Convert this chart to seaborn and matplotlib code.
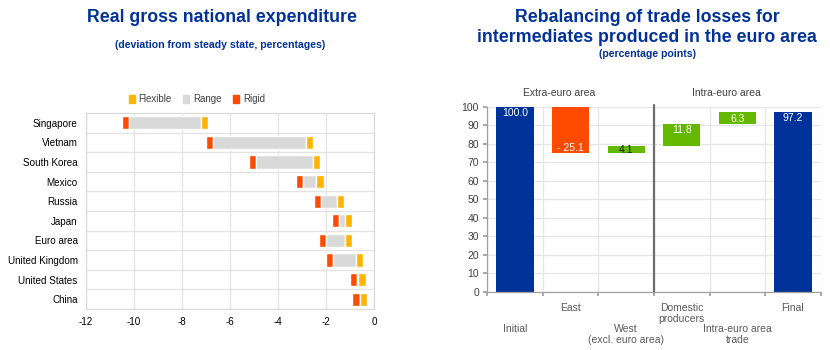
import matplotlib
matplotlib.use("Agg")
import matplotlib.pyplot as plt
from matplotlib.patches import Patch
import matplotlib.transforms as mtransforms
import seaborn as sns

# data: real gross national expenditure (left)
countries = ["Singapore", "Vietnam", "South Korea", "Mexico", "Russia",
             "Japan", "Euro area", "United Kingdom", "United States", "China"]
rigid = [-10.2, -6.7, -4.9, -2.95, -2.2, -1.45, -2.0, -1.7, -0.7, -0.6]
flexible = [-7.2, -2.85, -2.55, -2.4, -1.55, -1.2, -1.2, -0.75, -0.65, -0.6]

# data: trade losses waterfall (right)
steps = ["Initial", "East", "West\n(excl. euro area)", "Domestic\nproducers",
         "Intra-euro area\ntrade", "Final"]
changes = [100.0, -25.1, 4.1, 11.8, 6.3, 97.2]
step_kind = ["total", "loss", "gain", "gain", "gain", "total"]
groups = ["Extra-euro area", "Intra-euro area"]

BLUE = "#003299"
RED = "#FF4B00"
YELLOW = "#FFB400"
GREEN = "#65B800"
LGREY = "#D9D9D9"
TXT = "#404040"

sns.set_theme(style="white")
plt.rcParams["font.family"] = ["Liberation Sans", "DejaVu Sans"]
plt.rcParams["axes.unicode_minus"] = False
TITLE_FONT = ["Liberation Sans Narrow", "Liberation Sans", "DejaVu Sans"]

fig = plt.figure(figsize=(8.3, 3.5), dpi=100)

# ---------------- left chart ----------------
ax1 = fig.add_axes([86 / 830, 1 - 309 / 350, 288 / 830, 196 / 350])
mw = 0.3  # marker width
range_w = [f - r for r, f in zip(rigid, flexible)]
sns.barplot(x=[mw] * len(countries), y=countries, left=[r - mw for r in rigid],
            orient="h", color=RED, saturation=1, width=0.68, errorbar=None, ax=ax1)
sns.barplot(x=range_w, y=countries, left=rigid, orient="h", color=LGREY,
            saturation=1, width=0.68, errorbar=None, ax=ax1)
sns.barplot(x=[mw] * len(countries), y=countries, left=flexible, orient="h",
            color=YELLOW, saturation=1, width=0.68, errorbar=None, ax=ax1)
ax1.set_xlim(-12, 0)
ax1.set_ylim(len(countries) - 0.5, -0.5)
ax1.set_xticks(range(-12, 1, 2))
ax1.set_yticks([i + 0.5 for i in range(len(countries) - 1)], minor=True)
ax1.grid(True, axis="x", color="#E3E3E3", lw=0.9)
ax1.grid(True, axis="y", which="minor", color="#E3E3E3", lw=0.9)
ax1.set_axisbelow(True)
ax1.tick_params(axis="both", which="both", length=0, labelsize=7.1, colors="black", pad=6)
ax1.set_xlabel("")
ax1.set_ylabel("")
for s in ax1.spines.values():
    s.set_color("#DADADA")
    s.set_linewidth(0.9)
ax1.legend(handles=[Patch(color=YELLOW, label="Flexible"), Patch(color=LGREY, label="Range"),
                    Patch(color=RED, label="Rigid")],
           loc="center", bbox_to_anchor=(0.385, 1.071), ncol=3, frameon=False,
           fontsize=7, handlelength=0.6, handleheight=0.9, handletextpad=0.4,
           columnspacing=1.2, labelcolor=TXT)

fig.text(222 / 830, 1 - 18 / 350, "Real gross national expenditure", ha="center", va="center",
         fontsize=12.8, fontweight="bold", color=BLUE, family=TITLE_FONT)
fig.text(220 / 830, 1 - 45 / 350, "(deviation from steady state, percentages)", ha="center",
         va="center", fontsize=7.6, fontweight="bold", color=BLUE, family=TITLE_FONT)

# ---------------- right chart ----------------
ax2 = fig.add_axes([487.3 / 830, 1 - 291.7 / 350, 333.4 / 830, 185 / 350])
bottoms, heights = [], []
level = 0.0
for v, k in zip(changes, step_kind):
    if k == "total":
        bottoms.append(0.0)
        heights.append(v)
        level = v
    elif k == "loss":
        level += v
        bottoms.append(level)
        heights.append(-v)
    else:
        bottoms.append(level)
        heights.append(v)
        level += v
sns.barplot(x=steps, y=heights, bottom=bottoms, color=BLUE, saturation=1,
            width=0.67, errorbar=None, ax=ax2)
kind_color = {"total": BLUE, "loss": RED, "gain": GREEN}
for p, k in zip(ax2.patches, step_kind):
    p.set_facecolor(kind_color[k])
    p.set_edgecolor("none")

for i, (v, b, h, k) in enumerate(zip(changes, bottoms, heights, step_kind)):
    if k == "loss":
        ax2.text(i, b + 3, f"- {abs(v):.1f}", ha="center", va="center", fontsize=7.5, color="white")
    elif h < 6:
        ax2.text(i, b + h / 2 - 0.5, f"{v:.1f}", ha="center", va="center", fontsize=7.5, color="#1a1a1a")
    else:
        ax2.text(i, b + h - 3.5, f"{v:.1f}", ha="center", va="center", fontsize=7.5, color="white")

ax2.set_xlim(-0.5, len(steps) - 0.5)
ax2.set_ylim(0, 100)
ax2.set_yticks(range(0, 101, 10))
ax2.set_xticks([i - 0.5 for i in range(len(steps) + 1)])
ax2.set_xticklabels([])
ax2.grid(True, color="#E6E6E6", lw=0.9)
ax2.set_axisbelow(True)
ax2.tick_params(axis="y", length=3, color="#A0A0A0", labelsize=7.5, labelcolor=TXT, pad=3, left=True)
ax2.tick_params(axis="x", length=3, color="#A0A0A0", bottom=True)
ax2.set_xlabel("")
ax2.set_ylabel("")
for side in ["top", "right"]:
    ax2.spines[side].set_visible(False)
for side in ["left", "bottom"]:
    ax2.spines[side].set_color("#A0A0A0")
    ax2.spines[side].set_linewidth(0.9)
ax2.axvline(2.5, color="#6E6E6E", lw=1.6, ymin=0, ymax=1.01, clip_on=False)

trans = mtransforms.blended_transform_factory(ax2.transData, ax2.transAxes)
for i, lab in enumerate(steps):
    ypos = -0.174 if i % 2 == 0 else -0.061
    ax2.text(i, ypos, lab, transform=trans, ha="center", va="top", fontsize=7.5,
             color="#595959", linespacing=1.1)
ax2.text(0.8, 1.074, groups[0], transform=trans, ha="center", va="center", fontsize=7.5, color=TXT)
ax2.text(3.8, 1.074, groups[1], transform=trans, ha="center", va="center", fontsize=7.5, color=TXT)

fig.text(647 / 830, 1 - 18 / 350, "Rebalancing of trade losses for", ha="center", va="center",
         fontsize=12.8, fontweight="bold", color=BLUE, family=TITLE_FONT)
fig.text(647 / 830, 1 - 38 / 350, "intermediates produced in the euro area", ha="center",
         va="center", fontsize=12.8, fontweight="bold", color=BLUE, family=TITLE_FONT)
fig.text(647 / 830, 1 - 54 / 350, "(percentage points)", ha="center", va="center",
         fontsize=7.6, fontweight="bold", color=BLUE, family=TITLE_FONT)

fig.savefig("out.png", dpi=100)
